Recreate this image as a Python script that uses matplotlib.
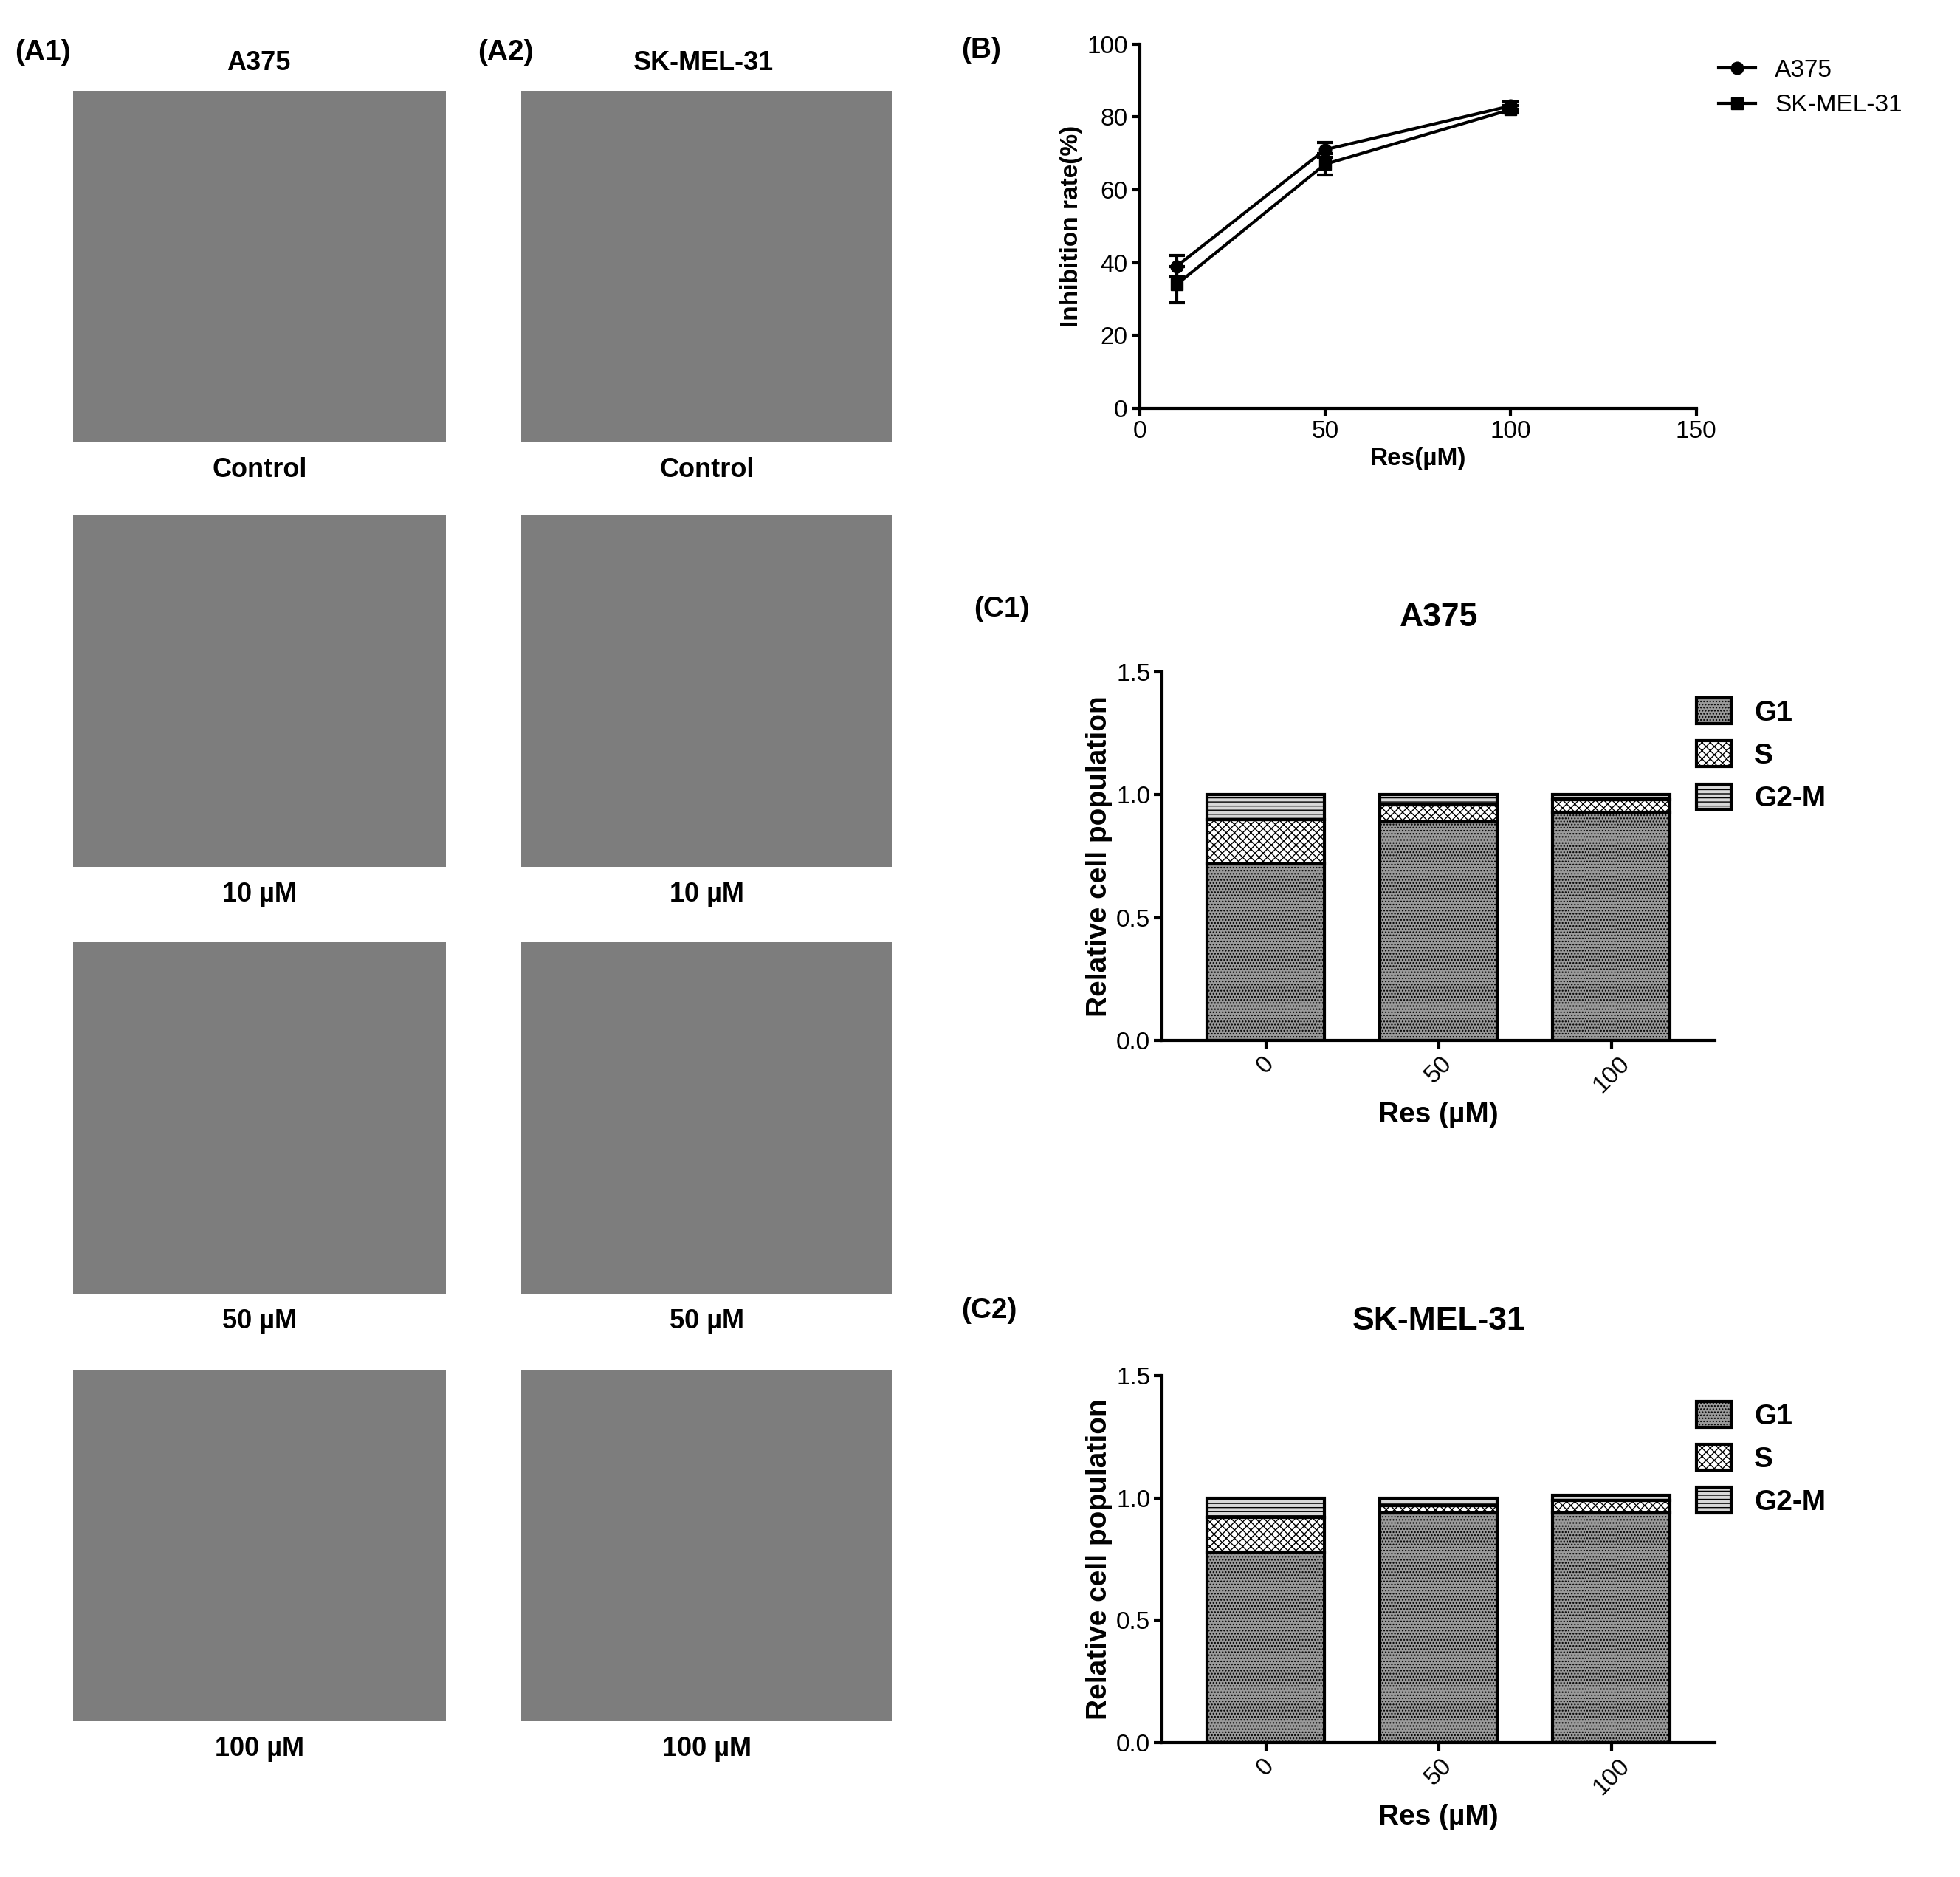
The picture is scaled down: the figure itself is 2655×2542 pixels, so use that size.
import numpy as np
import matplotlib.pyplot as plt
from matplotlib.lines import Line2D

# panel B data
doses = [10, 50, 100]
a375_inhib = [39, 71, 83]
a375_err = [3, 2, 1]
skmel_inhib = [34, 67, 82]
skmel_err = [5, 3, 1]

# panel C data
res_labels = ['0', '50', '100']
a375_g1 = [0.72, 0.89, 0.93]
a375_s = [0.18, 0.07, 0.05]
a375_g2m = [0.10, 0.04, 0.02]
sk_g1 = [0.78, 0.94, 0.94]
sk_s = [0.14, 0.03, 0.05]
sk_g2m = [0.08, 0.03, 0.02]

dose_captions = ['Control', '10 µM', '50 µM', '100 µM']

W, H = 1560.0, 1494.0
def box(x0, y0, x1, y1):
    return [x0 / W, 1 - y1 / H, (x1 - x0) / W, (y1 - y0) / H]

fig = plt.figure(figsize=(26.55, 25.42), dpi=100)
plt.rcParams['font.family'] = ['Liberation Sans', 'DejaVu Sans']

# micrograph placeholders
rows = [(72, 352), (410, 690), (750, 1030), (1090, 1370)]
for col, (x0, x1) in enumerate([(58, 355), (415, 710)]):
    for r, (y0, y1) in enumerate(rows):
        ax = fig.add_axes(box(x0, y0, x1, y1))
        ax.set_facecolor('#7d7d7d')
        ax.set_xticks([]); ax.set_yticks([])
        for s in ax.spines.values():
            s.set_visible(False)
        fig.text((x0 + x1) / 2 / W, 1 - (y1 + 22) / H, dose_captions[r],
                 ha='center', va='center', fontsize=26, fontweight='bold')
fig.text(206 / W, 1 - 50 / H, 'A375', ha='center', va='center', fontsize=26, fontweight='bold')
fig.text(560 / W, 1 - 50 / H, 'SK-MEL-31', ha='center', va='center', fontsize=26, fontweight='bold')
fig.text(12 / W, 1 - 42 / H, '(A1)', fontsize=28, fontweight='bold', va='center')
fig.text(380 / W, 1 - 42 / H, '(A2)', fontsize=28, fontweight='bold', va='center')

def style(ax):
    for s in ['top', 'right']:
        ax.spines[s].set_visible(False)
    for s in ['left', 'bottom']:
        ax.spines[s].set_linewidth(3)
    ax.tick_params(width=3, length=8, labelsize=24)

# panel B
axb = fig.add_axes(box(907, 35, 1350, 325))
axb.errorbar(doses, a375_inhib, yerr=a375_err, color='black', marker='o', ms=12, lw=3,
             capsize=8, capthick=3)
axb.errorbar(doses, skmel_inhib, yerr=skmel_err, color='black', marker='s', ms=12, lw=3,
             capsize=8, capthick=3)
axb.set_xlim(0, 150); axb.set_ylim(0, 100)
axb.set_xticks([0, 50, 100, 150]); axb.set_yticks(range(0, 101, 20))
axb.set_xlabel('Res(µM)', fontsize=24, fontweight='bold')
axb.set_ylabel('Inhibition rate(%)', fontsize=24, fontweight='bold')
style(axb)
handles = [Line2D([], [], color='black', marker='o', ms=12, lw=3),
           Line2D([], [], color='black', marker='s', ms=12, lw=3)]
axb.legend(handles, ['A375', 'SK-MEL-31'], loc='upper left', bbox_to_anchor=(1.0, 1.02),
           frameon=False, fontsize=24, handlelength=1.5)
fig.text(765 / W, 1 - 40 / H, '(B)', fontsize=28, fontweight='bold', va='center')

def cell_cycle(ax, g1, s, g2m, title):
    x = np.arange(len(res_labels))
    kw = dict(width=0.68, edgecolor='black', linewidth=3)
    ax.bar(x, g1, color='#9a9a9a', hatch='....', label='G1', **kw)
    ax.bar(x, s, bottom=g1, color='white', hatch='xxx', label='S', **kw)
    ax.bar(x, g2m, bottom=np.add(g1, s), color='#d8d8d8', hatch='---', label='G2-M', **kw)
    ax.set_xlim(-0.6, 2.6); ax.set_ylim(0, 1.5)
    ax.set_yticks([0, 0.5, 1.0, 1.5])
    ax.set_xticks(x)
    ax.set_xticklabels(res_labels, rotation=45)
    ax.set_xlabel('Res (µM)', fontsize=28, fontweight='bold')
    ax.set_ylabel('Relative cell population', fontsize=28, fontweight='bold')
    ax.set_title(title, fontsize=32, fontweight='bold', pad=45)
    style(ax)
    ax.legend(loc='upper left', bbox_to_anchor=(0.92, 1.0), frameon=False,
              prop={'size': 28, 'weight': 'bold'}, handlelength=1.2, handleheight=1.0)

ax1 = fig.add_axes(box(925, 535, 1365, 828))
cell_cycle(ax1, a375_g1, a375_s, a375_g2m, 'A375')
fig.text(775 / W, 1 - 485 / H, '(C1)', fontsize=28, fontweight='bold', va='center')

ax2 = fig.add_axes(box(925, 1095, 1365, 1387))
cell_cycle(ax2, sk_g1, sk_s, sk_g2m, 'SK-MEL-31')
fig.text(765 / W, 1 - 1043 / H, '(C2)', fontsize=28, fontweight='bold', va='center')

fig.savefig('out.png', dpi=100, facecolor='white')
